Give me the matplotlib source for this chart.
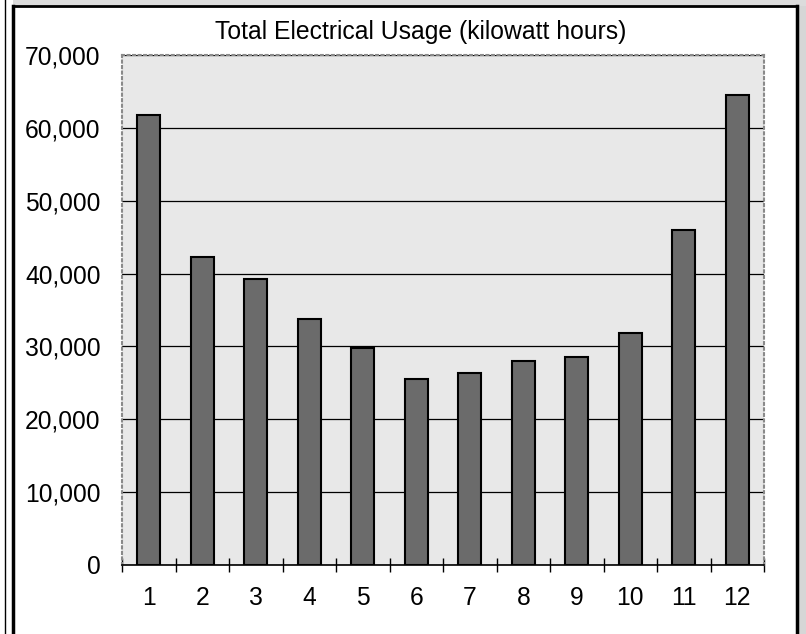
import matplotlib.pyplot as plt
from matplotlib.patches import Rectangle
from matplotlib.lines import Line2D

months = [1, 2, 3, 4, 5, 6, 7, 8, 9, 10, 11, 12]
usage = [61700, 42300, 39200, 33700, 29800, 25500, 26300, 28000, 28500, 31800, 46000, 64500]
yticks = [0, 10000, 20000, 30000, 40000, 50000, 60000, 70000]

plt.rcParams['font.family'] = ['Liberation Sans', 'DejaVu Sans']

fig = plt.figure(figsize=(8.06, 6.34), dpi=100, facecolor='white')

# scanned page edges outside the chart frame
fig.add_artist(Rectangle((797 / 806, 0), 9 / 806, 1, transform=fig.transFigure,
                         facecolor='#d6d6d6', edgecolor='none', zorder=0))
fig.add_artist(Rectangle((13 / 806, 1 - 6 / 634), 793 / 806, 6 / 634, transform=fig.transFigure,
                         facecolor='#dcdcdc', edgecolor='none', zorder=0))
# chart frame
fig.add_artist(Line2D([13 / 806, 13 / 806], [0, 1 - 6 / 634], transform=fig.transFigure,
                      color='black', lw=2.5))
fig.add_artist(Line2D([797 / 806, 797 / 806], [0, 1 - 6 / 634], transform=fig.transFigure,
                      color='black', lw=2.5))
fig.add_artist(Line2D([13 / 806, 797 / 806], [1 - 6 / 634, 1 - 6 / 634], transform=fig.transFigure,
                      color='black', lw=2))
fig.add_artist(Line2D([5 / 806, 5 / 806], [0, 1], transform=fig.transFigure,
                      color='black', lw=1))

ax = fig.add_axes([122 / 806, 69 / 634, 642 / 806, 510 / 634])
ax.set_facecolor('#e8e8e8')

ax.bar(months, usage, width=0.43, color='#6b6b6b', edgecolor='black', linewidth=1.5, zorder=3)

ax.set_xlim(0.5, 12.5)
ax.set_ylim(0, 70000)
ax.set_yticks(yticks)
ax.set_yticklabels([f'{v:,}' for v in yticks])
ax.set_xticks(months)
ax.set_xticks([m + 0.5 for m in months[:-1]] + [0.5, 12.5], minor=True)
ax.tick_params(axis='x', which='major', length=0, pad=15, labelsize=17.7)
ax.tick_params(axis='x', which='minor', direction='inout', length=10, width=1)
ax.tick_params(axis='y', length=0, pad=15.5, labelsize=17.7)

ax.yaxis.grid(True, color='black', linewidth=0.9, zorder=1)
ax.set_axisbelow(True)

for side in ['left', 'top', 'right']:
    ax.spines[side].set_color('#8a8a8a')
    ax.spines[side].set_linestyle(':')
    ax.spines[side].set_linewidth(1.5)
ax.spines['bottom'].set_color('black')
ax.spines['bottom'].set_linewidth(1.2)

fig.text(421 / 806, 1 - 32 / 634, 'Total Electrical Usage (kilowatt hours)',
         ha='center', va='center', fontsize=17.8)

fig.savefig('out.png', dpi=100)
